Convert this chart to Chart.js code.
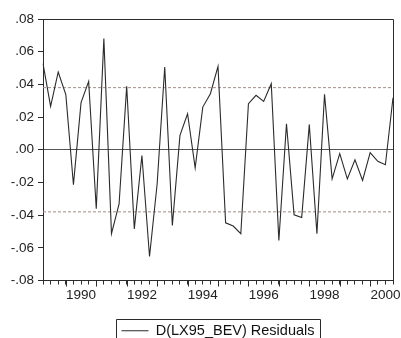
<!DOCTYPE html>
<html>
<head>
<meta charset="utf-8">
<script src="https://cdn.jsdelivr.net/npm/chart.js@4.4.1/dist/chart.umd.min.js"></script>
<style>
  html, body { margin: 0; padding: 0; background: #fff; }
</style>
</head>
<body>
<canvas id="chart" width="401" height="338"></canvas>
<script>
// quarterly residuals, 1989Q2 - 2000Q4
const startYear = 1989
const startQuarter = 2
const residuals = [
    0.0527, 0.0265, 0.0476, 0.0337, -0.0214, 0.0288, 0.0418, -0.0361,
    0.0680, -0.0514, -0.0331, 0.0388, -0.0484, -0.0035, -0.0653, -0.0210,
    0.0506, -0.0463, 0.0088, 0.0220, -0.0110, 0.0261, 0.0343, 0.0510,
    -0.0447, -0.0467, -0.0514, 0.0282, 0.0333, 0.0296, 0.0404, -0.0555,
    0.0159, -0.0398, -0.0414, 0.0155, -0.0514, 0.0339, -0.0178, -0.0024,
    -0.0178, -0.0061, -0.0188, -0.0018, -0.0071, -0.0092, 0.0318
]
const bandLevel = 0.038
const yearLabels = ['1990', '1992', '1994', '1996', '1998', '2000']
const seriesName = 'D(LX95_BEV) Residuals'

const periods = residuals.map((_, i) => {
    const q = startQuarter - 1 + i
    return `${startYear + Math.floor(q / 4)}Q${q % 4 + 1}`
})
const first = periods[0]
const last = periods[periods.length - 1]

const FONT = 'Liberation Sans, Arial, Helvetica, sans-serif'
const INK = '#2b2b2b'
const BAND = '#a38c88'

const fmtY = v => {
    if (Math.abs(v) < 1e-9) return '.00'
    return (v < 0 ? '-' : '') + Math.abs(v).toFixed(2).replace(/^0/, '')
}

// frame around the plot, longer year ticks, box around the legend
const decorations = {
    id: 'decorations',
    afterDraw(chart) {
        const {ctx, chartArea: a, scales: {x}} = chart
        ctx.save()
        ctx.strokeStyle = INK
        ctx.lineWidth = 1
        ctx.beginPath()
        ctx.moveTo(a.left, a.top + 0.5)
        ctx.lineTo(a.right + 0.5, a.top + 0.5)
        ctx.lineTo(a.right + 0.5, a.bottom)
        ctx.stroke()

        ctx.beginPath()
        periods.forEach((p, i) => {
            if (!p.endsWith('Q1')) return
            const px = Math.round(x.getPixelForValue(i)) + 0.5
            ctx.moveTo(px, a.bottom)
            ctx.lineTo(px, a.bottom + 6)
        })
        ctx.stroke()

        const hb = chart.legend.legendHitBoxes[0]
        if (hb) {
            const l = Math.round(hb.left - 5) + 0.5
            const r = Math.round(hb.left + hb.width + 5) + 0.5
            const t = Math.round(hb.top - 5) + 0.5
            ctx.beginPath()
            ctx.moveTo(l, chart.height + 2)
            ctx.lineTo(l, t)
            ctx.lineTo(r, t)
            ctx.lineTo(r, chart.height + 2)
            ctx.stroke()
        }
        ctx.restore()
    }
}

Chart.defaults.font.family = FONT
Chart.defaults.color = '#222'

const chart = new Chart(document.getElementById('chart'), {
    type: 'line',
    data: {
        labels: periods,
        datasets: [
            {
                label: seriesName,
                data: residuals,
                borderColor: INK,
                borderWidth: 1.1,
                pointRadius: 0,
                tension: 0
            },
            {
                label: 'upper',
                data: [{x: first, y: bandLevel}, {x: last, y: bandLevel}],
                borderColor: BAND,
                borderWidth: 1,
                borderDash: [3, 2],
                pointRadius: 0
            },
            {
                label: 'lower',
                data: [{x: first, y: -bandLevel}, {x: last, y: -bandLevel}],
                borderColor: BAND,
                borderWidth: 1,
                borderDash: [3, 2],
                pointRadius: 0
            }
        ]
    },
    options: {
        responsive: false,
        animation: false,
        layout: {padding: {left: 0, right: 8, top: 19, bottom: -10}},
        plugins: {
            tooltip: {enabled: false},
            legend: {
                position: 'bottom',
                fullSize: false,
                labels: {
                    filter: item => item.datasetIndex === 0,
                    usePointStyle: true,
                    pointStyle: 'line',
                    pointStyleWidth: 27,
                    color: '#111',
                    padding: 10,
                    font: {size: 14.5}
                }
            }
        },
        scales: {
            x: {
                type: 'category',
                offset: false,
                grid: {
                    offset: false,
                    drawOnChartArea: false,
                    tickLength: 4,
                    tickColor: INK
                },
                border: {color: INK},
                ticks: {
                    autoSkip: false,
                    maxRotation: 0,
                    padding: 3,
                    color: '#222',
                    font: {size: 13.5},
                    callback: (v, i) => {
                        const p = periods[i]
                        const yr = p.slice(0, 4)
                        return p.endsWith('Q3') && yearLabels.includes(yr) ? yr : ''
                    }
                },
                afterFit: s => { s.height = 33 }
            },
            y: {
                min: -0.08,
                max: 0.08,
                grid: {
                    color: c => Math.abs(c.tick.value) < 1e-9 ? '#555' : 'transparent',
                    tickColor: INK,
                    tickLength: 5
                },
                border: {color: INK},
                ticks: {
                    stepSize: 0.02,
                    padding: 4,
                    color: '#222',
                    font: {size: 13.5},
                    callback: fmtY
                },
                afterFit: s => { s.width = 43 }
            }
        }
    },
    plugins: [decorations]
})
</script>
</body>
</html>
